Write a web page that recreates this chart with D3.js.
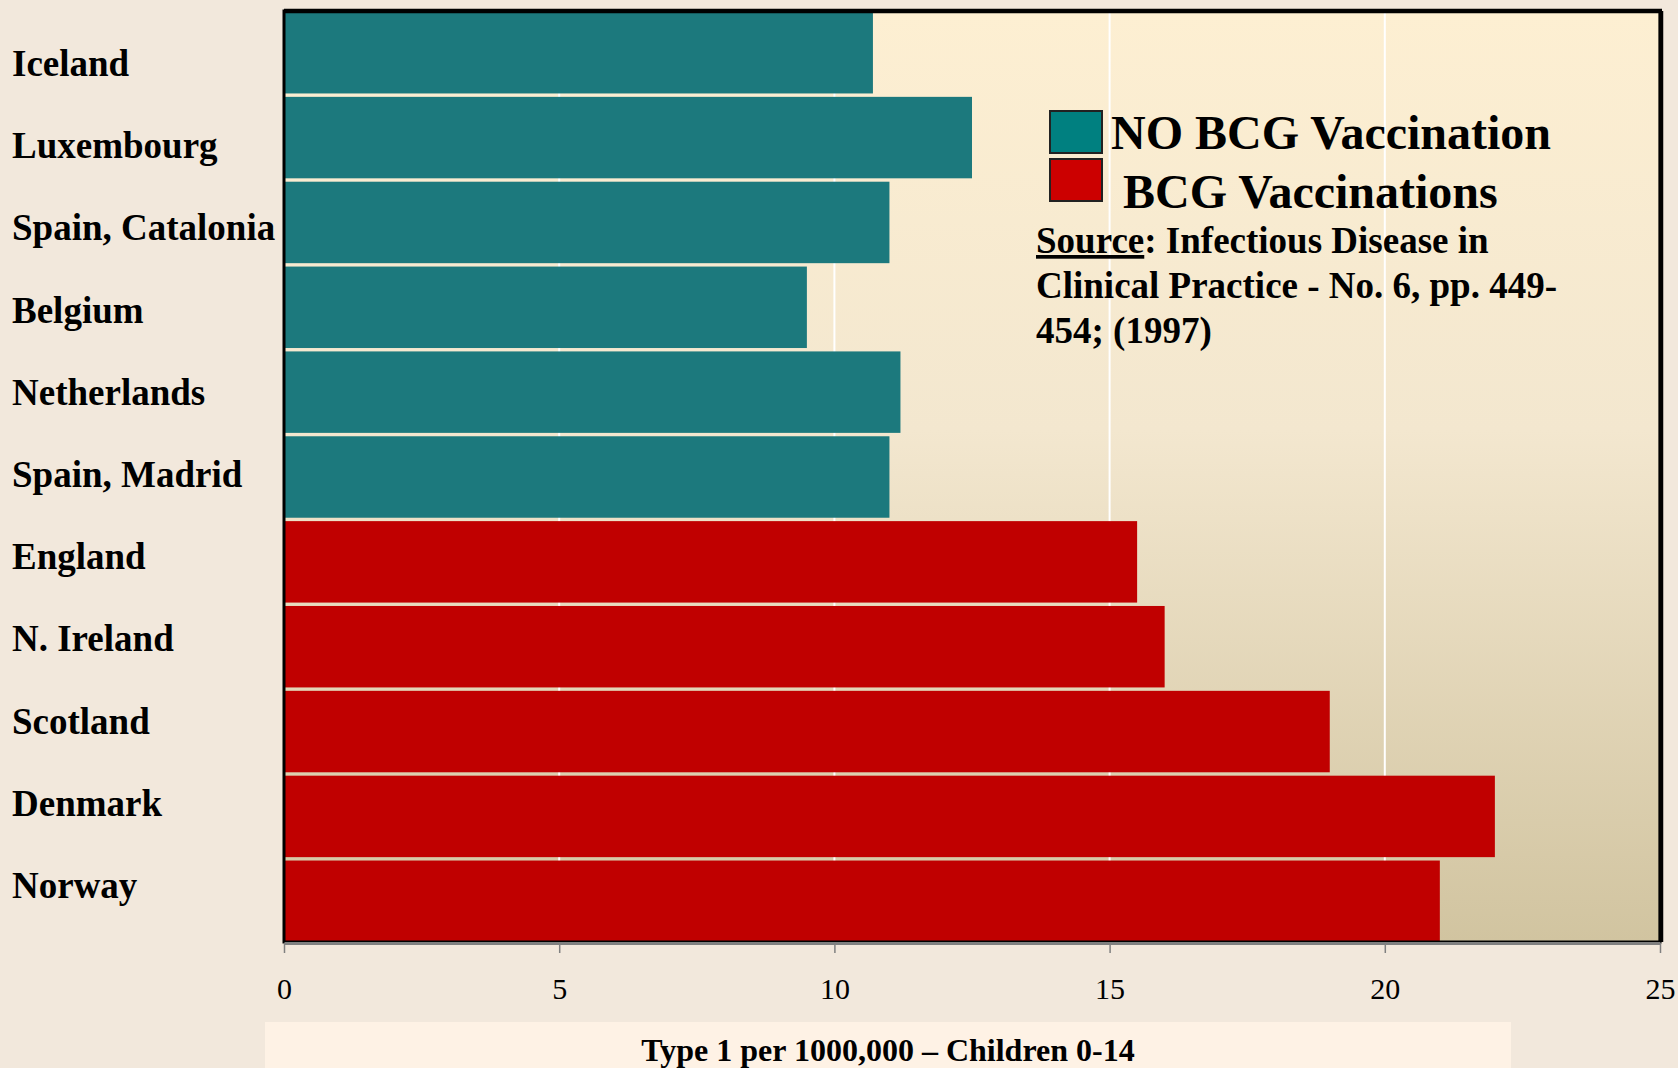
<!DOCTYPE html>
<html>
<head>
<meta charset="utf-8">
<script src="https://cdn.jsdelivr.net/npm/d3@7"></script>
<style>
  body { margin: 0; background: #f2e8dc; }
  text { font-family: "Liberation Serif", "Times New Roman", serif; }
</style>
</head>
<body>
<script>
// data
var countries = ['Iceland', 'Luxembourg', 'Spain, Catalonia', 'Belgium', 'Netherlands', 'Spain, Madrid',
  'England', 'N. Ireland', 'Scotland', 'Denmark', 'Norway'];
var incidence = [10.7, 12.5, 11, 9.5, 11.2, 11, 15.5, 16, 19, 22, 21];
var groups = ['none', 'none', 'none', 'none', 'none', 'none', 'bcg', 'bcg', 'bcg', 'bcg', 'bcg'];
var xTicks = [0, 5, 10, 15, 20, 25];
var legendLabels = ['NO BCG Vaccination', ' BCG Vaccinations'];
var sourceLines = ['Clinical Practice - No. 6, pp. 449-', '454; (1997)'];

var width = 1678;
var height = 1068;
var plotLeft = 284, plotRight = 1660, plotTop = 11, plotBottom = 942;

var svg = d3.select('body').append('svg').attr('width', width).attr('height', height);

var defs = svg.append('defs');
var grad = defs.append('linearGradient').attr('id', 'bg').attr('x1', 0).attr('y1', 0).attr('x2', 0).attr('y2', 1);
grad.append('stop').attr('offset', '0%').attr('stop-color', '#fdefd2');
grad.append('stop').attr('offset', '45%').attr('stop-color', '#f3e7cf');
grad.append('stop').attr('offset', '100%').attr('stop-color', '#d1c4a0');

var x = d3.scaleLinear().domain([0, 25]).range([plotLeft, plotRight]);
var y = d3.scaleBand().domain(countries).range([plotTop + 1, plotBottom]).paddingInner(0.04).paddingOuter(0);
// the labels sit a bit tighter than the bars
var yLabel = d3.scalePoint().domain(countries).range([76, 898]);
var colour = d3.scaleOrdinal().domain(['none', 'bcg']).range(['#1c797d', '#c00000']);

// plot background
svg.append('rect')
  .attr('x', plotLeft).attr('y', plotTop)
  .attr('width', plotRight - plotLeft).attr('height', plotBottom - plotTop)
  .attr('fill', 'url(#bg)');

// white gridlines
svg.selectAll('.grid')
  .data(xTicks.slice(1, -1))
  .enter().append('line')
  .attr('class', 'grid')
  .attr('x1', function(d){ return x(d); })
  .attr('x2', function(d){ return x(d); })
  .attr('y1', plotTop).attr('y2', plotBottom)
  .attr('stroke', '#ffffff').attr('stroke-width', 2);

// bars
svg.selectAll('.bar')
  .data(countries)
  .enter().append('rect')
  .attr('class', 'bar')
  .attr('x', x(0))
  .attr('y', function(d){ return y(d); })
  .attr('width', function(d, i){ return x(incidence[i]) - x(0); })
  .attr('height', y.bandwidth())
  .attr('fill', function(d, i){ return colour(groups[i]); });

// frame
svg.append('rect')
  .attr('x', plotLeft).attr('y', plotTop)
  .attr('width', plotRight - plotLeft).attr('height', plotBottom - plotTop)
  .attr('fill', 'none').attr('stroke', '#000').attr('stroke-width', 3);
svg.append('line')
  .attr('x1', plotLeft).attr('x2', plotRight + 2).attr('y1', plotTop).attr('y2', plotTop)
  .attr('stroke', '#000').attr('stroke-width', 4.5);
svg.append('line')
  .attr('x1', plotRight + 1).attr('x2', plotRight + 1).attr('y1', plotTop).attr('y2', plotBottom)
  .attr('stroke', '#000').attr('stroke-width', 4.5);

// x axis
var xAxis = svg.append('g')
  .attr('transform', 'translate(0,' + (plotBottom + 1) + ')')
  .call(d3.axisBottom(x).tickValues(xTicks).tickSize(10).tickPadding(25).tickSizeOuter(0));
xAxis.select('.domain').attr('stroke', '#808080').attr('stroke-width', 3);
xAxis.selectAll('.tick line').attr('stroke', '#808080').attr('stroke-width', 1.5);
xAxis.selectAll('.tick text')
  .attr('font-family', 'Liberation Serif')
  .attr('font-size', 30)
  .attr('fill', '#000');

// category labels
svg.selectAll('.label')
  .data(countries)
  .enter().append('text')
  .attr('class', 'label')
  .attr('x', 12)
  .attr('y', function(d){ return yLabel(d); })
  .attr('font-size', 37)
  .attr('font-weight', 'bold')
  .text(function(d){ return d; });

// axis title box
svg.append('rect')
  .attr('x', 265).attr('y', 1022)
  .attr('width', 1246).attr('height', 60)
  .attr('fill', '#fef2e5');
svg.append('text')
  .attr('x', 888).attr('y', 1061)
  .attr('text-anchor', 'middle')
  .attr('font-size', 32)
  .attr('font-weight', 'bold')
  .text('Type 1 per 1000,000 \u2013 Children 0-14');

// legend
var legend = svg.append('g');
legend.selectAll('rect')
  .data(['#008080', '#cc0000'])
  .enter().append('rect')
  .attr('x', 1050)
  .attr('y', function(d, i){ return 111 + i * 48; })
  .attr('width', 52).attr('height', 42)
  .attr('fill', function(d){ return d; })
  .attr('stroke', '#222').attr('stroke-width', 2);
legend.selectAll('text')
  .data(legendLabels)
  .enter().append('text')
  .attr('x', 1111)
  .attr('y', function(d, i){ return 149 + i * 59; })
  .attr('font-size', 48)
  .attr('font-weight', 'bold')
  .style('white-space', 'pre')
  .text(function(d){ return d; });

// source note
var src = svg.append('text')
  .attr('x', 1036).attr('y', 253)
  .attr('font-size', 37)
  .attr('font-weight', 'bold');
src.append('tspan').attr('text-decoration', 'underline').text('Source');
src.append('tspan').text(': Infectious Disease in');
svg.selectAll('.srcline')
  .data(sourceLines)
  .enter().append('text')
  .attr('class', 'srcline')
  .attr('x', 1036)
  .attr('y', function(d, i){ return 298 + i * 45; })
  .attr('font-size', 37)
  .attr('font-weight', 'bold')
  .text(function(d){ return d; });
</script>
</body>
</html>
